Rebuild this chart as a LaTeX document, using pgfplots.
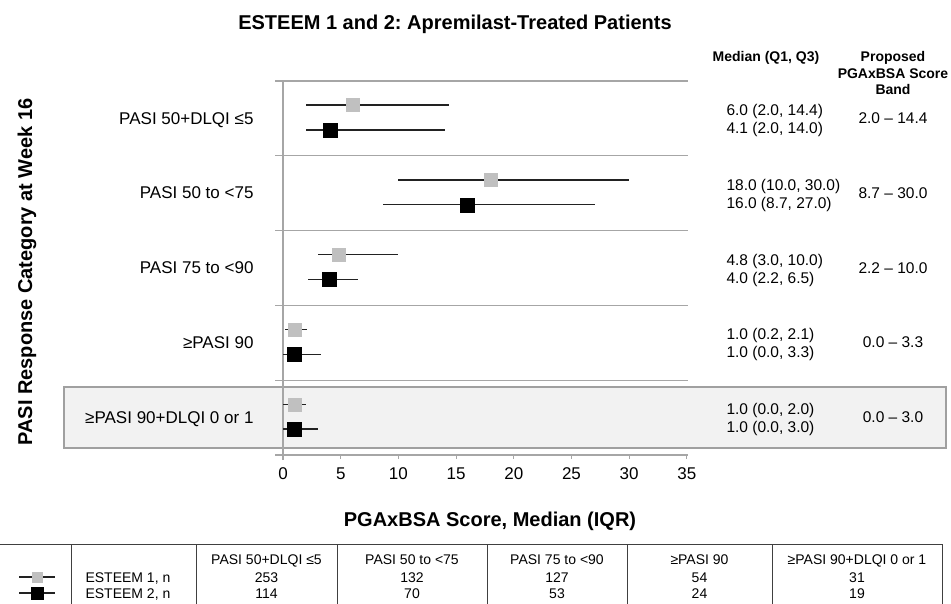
\documentclass[border=0pt]{standalone}
\usepackage{fontspec}
\setmainfont{Liberation Sans}
\usepackage{pgfplots}
\pgfplotsset{compat=1.18}
\usepackage{pgfplotstable}
\frenchspacing
\definecolor{sepgray}{HTML}{A6A6A6}
\definecolor{boxfill}{HTML}{F2F2F2}
\definecolor{boxline}{HTML}{A0A0A0}
\definecolor{eonegray}{HTML}{C0C0C0}
\definecolor{whisk}{HTML}{222222}
\definecolor{tabline}{HTML}{404040}

% ESTEEM 1 (grey squares): y position, median, Q1, Q3
\pgfplotstableread{
y med q1 q3
4.679 6.0 2.0 14.4
3.679 18.0 10.0 30.0
2.679 4.8 3.0 10.0
1.679 1.0 0.2 2.1
0.679 1.0 0.0 2.0
}\esteemone
% ESTEEM 2 (black squares)
\pgfplotstableread{
y med q1 q3
4.345 4.1 2.0 14.0
3.345 16.0 8.7 27.0
2.345 4.0 2.2 6.5
1.345 1.0 0.0 3.3
0.345 1.0 0.0 3.0
}\esteemtwo

\begin{document}
\begin{tikzpicture}
\useasboundingbox (0,0) rectangle (951pt,603pt);
\begin{scope}[x=1pt,y=-1pt,shift={(0,603pt)}]
  \filldraw[fill=boxfill, draw=boxline, line width=1.2pt] (64,387) rectangle (946,448);
\end{scope}

\begin{axis}[
  at={(275pt,148pt)}, anchor=south west,
  scale only axis, width=413pt, height=374pt,
  xmin=-0.7, xmax=35.1, ymin=0, ymax=5,
  axis x line*=bottom, axis y line=none,
  x axis line style={sepgray, line width=1.2pt},
  xtick={0,5,...,35}, ytick=\empty,
  tick align=outside, major tick length=4pt,
  every tick/.style={sepgray, line width=1.2pt},
  xticklabel style={font=\fontsize{17}{17}\selectfont, yshift=-5pt},
  /pgf/number format/assume math mode=true,
  clip=false,
]
  \draw[sepgray, line width=1.2pt] (axis cs:0,5) -- (axis cs:0,-0.067);
  \draw[sepgray, line width=1.2pt] (axis cs:-0.7,5) -- (axis cs:35.1,5);
  \draw[sepgray, line width=1.2pt] (axis cs:-0.7,4) -- (axis cs:35.1,4);
  \draw[sepgray, line width=1.2pt] (axis cs:-0.7,3) -- (axis cs:35.1,3);
  \draw[sepgray, line width=1.2pt] (axis cs:-0.7,2) -- (axis cs:35.1,2);
  \draw[sepgray, line width=1.2pt] (axis cs:-0.7,1) -- (axis cs:35.1,1);

  \addplot[only marks, mark=square*, mark size=6.5pt,
    mark options={fill=eonegray, draw=eonegray},
    error bars/.cd, x dir=both, x explicit, error mark=none,
    error bar style={whisk, line width=1.4pt}]
    table[x=med, y=y,
      x error plus expr=\thisrow{q3}-\thisrow{med},
      x error minus expr=\thisrow{med}-\thisrow{q1}] {\esteemone};
  \addplot[only marks, mark=square*, mark size=7pt,
    mark options={fill=black, draw=black},
    error bars/.cd, x dir=both, x explicit, error mark=none,
    error bar style={whisk, line width=1.4pt}]
    table[x=med, y=y,
      x error plus expr=\thisrow{q3}-\thisrow{med},
      x error minus expr=\thisrow{med}-\thisrow{q1}] {\esteemtwo};
\end{axis}

\begin{scope}[x=1pt,y=-1pt,shift={(0,603pt)}]
  % title and axis labels
  \node[anchor=base, font=\fontsize{20}{24}\selectfont\bfseries] at (455,30) {ESTEEM 1 and 2: Apremilast-Treated Patients};
  \node[anchor=base, font=\fontsize{20}{24}\selectfont\bfseries] at (490,526) {PGAxBSA Score, Median (IQR)};
  \node[anchor=base, rotate=90, font=\fontsize{20}{24}\selectfont\bfseries] at (32,272) {PASI Response Category at Week 16};

  % column headers
  \node[anchor=base, font=\fontsize{14}{16}\selectfont\bfseries] at (766,62) {Median (Q1, Q3)};
  \node[anchor=base, font=\fontsize{14}{16}\selectfont\bfseries] at (893,62) {Proposed};
  \node[anchor=base, font=\fontsize{14}{16}\selectfont\bfseries] at (893,78.5) {PGAxBSA Score};
  \node[anchor=base, font=\fontsize{14}{16}\selectfont\bfseries] at (893,95) {Band};

  % category labels
  \begin{scope}[every node/.style={anchor=base east, font=\fontsize{17}{20}\selectfont}]
    \node at (257,124.1) {PASI 50+DLQI ≤5};
    \node at (257,198.9) {PASI 50 to <75};
    \node at (257,273.7) {PASI 75 to <90};
    \node at (257,348.5) {≥PASI 90};
    \node at (257,423.3) {≥PASI 90+DLQI 0 or 1};
  \end{scope}

  % median (Q1, Q3) values
  \begin{scope}[every node/.style={anchor=base west, font=\fontsize{15.5}{18}\selectfont}]
    \node at (723,115.6) {6.0 (2.0, 14.4)};
    \node at (723,133.6) {4.1 (2.0, 14.0)};
    \node at (723,190.4) {18.0 (10.0, 30.0)};
    \node at (723,208.4) {16.0 (8.7, 27.0)};
    \node at (723,265.2) {4.8 (3.0, 10.0)};
    \node at (723,283.2) {4.0 (2.2, 6.5)};
    \node at (723,340.0) {1.0 (0.2, 2.1)};
    \node at (723,358.0) {1.0 (0.0, 3.3)};
    \node at (723,414.8) {1.0 (0.0, 2.0)};
    \node at (723,432.8) {1.0 (0.0, 3.0)};
  \end{scope}

  % proposed bands
  \begin{scope}[every node/.style={anchor=base, font=\fontsize{15.5}{18}\selectfont}]
    \node at (893,123.6) {2.0 – 14.4};
    \node at (893,198.4) {8.7 – 30.0};
    \node at (893,273.2) {2.2 – 10.0};
    \node at (893,348.0) {0.0 – 3.3};
    \node at (893,422.8) {0.0 – 3.0};
  \end{scope}

  % bottom table
  \draw[tabline, line width=1pt] (0,544) -- (942,544);
  \foreach \xx in {71,196,337,487,627,772,942}
    \draw[tabline, line width=1pt] (\xx,544) -- (\xx,604);
  \begin{scope}[every node/.style={anchor=base, font=\fontsize{14}{16}\selectfont}]
    \node at (266.5,564) {PASI 50+DLQI ≤5};
    \node at (412,564) {PASI 50 to <75};
    \node at (557,564) {PASI 75 to <90};
    \node at (699.5,564) {≥PASI 90};
    \node at (857,564) {≥PASI 90+DLQI 0 or 1};
    \node at (266.5,582) {253};
    \node at (412,582) {132};
    \node at (557,582) {127};
    \node at (699.5,582) {54};
    \node at (857,582) {31};
    \node at (266.5,598) {114};
    \node at (412,598) {70};
    \node at (557,598) {53};
    \node at (699.5,598) {24};
    \node at (857,598) {19};
    \node[anchor=base west] at (82,582) {ESTEEM 1, n};
    \node[anchor=base west] at (82,598) {ESTEEM 2, n};
  \end{scope}
  % legend keys
  \draw[whisk, line width=1.4pt] (19,577) -- (55,577);
  \fill[eonegray] (31.5,571.5) rectangle (42.5,582.5);
  \draw[whisk, line width=1.4pt] (19,593) -- (55,593);
  \fill[black] (30.5,586.5) rectangle (43.5,599.5);
\end{scope}
\end{tikzpicture}
\end{document}
